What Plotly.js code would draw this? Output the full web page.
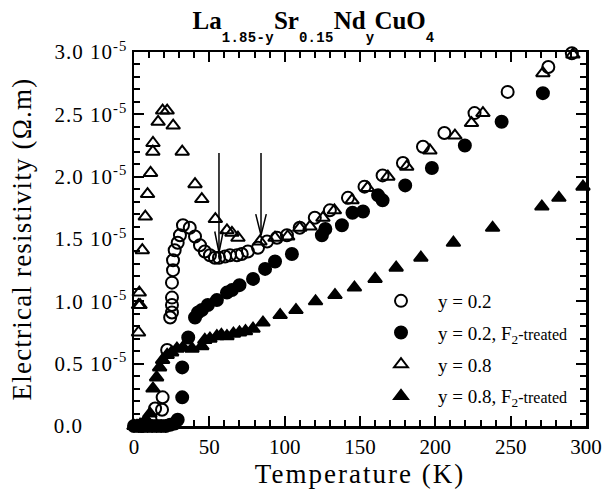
<!DOCTYPE html>
<html>
<head>
<meta charset="utf-8">
<script src="https://cdn.plot.ly/plotly-3.0.1.min.js"></script>
<style>
html,body{margin:0;padding:0;background:#fff;}
#chart{width:606px;height:493px;}
#chart .ytick text, #chart .y2tick text{letter-spacing:1px;}
#chart .xtitle{letter-spacing:2px;}
#chart .ytitle{letter-spacing:1.2px;}
</style>
</head>
<body>
<div id="chart"></div>
<script>
// Temperature (K) and electrical resistivity (in units of 10^-5 Ohm.m)
var T_y02 = [5, 8, 11, 14, 18.6, 19, 22, 24, 25.2, 25.2, 25.2, 25.2, 25.9, 25.9, 27, 29, 30.5, 32.5, 37, 40.5, 43.8, 47, 50.4, 53.7, 56.4, 60.4, 63.7, 68.3, 71.5, 75.6, 82.3, 88.3, 94.9, 101.5, 110, 120, 130, 142, 153, 165, 178.5, 191.8, 206, 226, 248, 275, 290.6];
var R_y02 = [0, 0.02, 0.05, 0.14, 0.13, 0.23, 0.61, 0.87, 0.91, 0.97, 1.03, 1.15, 1.25, 1.33, 1.41, 1.47, 1.53, 1.61, 1.59, 1.52, 1.45, 1.40, 1.37, 1.35, 1.35, 1.36, 1.37, 1.37, 1.38, 1.40, 1.43, 1.48, 1.51, 1.53, 1.59, 1.67, 1.73, 1.83, 1.92, 2.01, 2.11, 2.24, 2.35, 2.51, 2.68, 2.88, 2.99];

var T_y02F = [0, 3, 6, 9, 12, 15, 18, 21, 24, 27, 29, 32, 32, 36, 40.5, 42.5, 45, 49, 55, 61.7, 65, 70, 79, 87, 93.6, 104.8, 124.7, 127, 138, 145, 152, 162, 165, 180, 197.7, 219.6, 244, 271.4];
var R_y02F = [0, 0, 0, 0, 0, 0, 0, 0, 0.01, 0.02, 0.05, 0.23, 0.47, 0.71, 0.87, 0.91, 0.93, 0.97, 1.01, 1.07, 1.09, 1.13, 1.18, 1.26, 1.32, 1.38, 1.53, 1.58, 1.61, 1.71, 1.72, 1.85, 1.81, 1.93, 2.07, 2.25, 2.44, 2.67];

var T_y08 = [3, 3, 3.5, 4, 5.5, 7.5, 9, 11, 12.5, 12.6, 16, 19, 22, 26, 32, 40.5, 45, 54, 61.7, 65, 69, 83.6, 93.6, 102, 110, 116.8, 125.4, 133, 144.7, 155, 168.5, 181, 196.4, 213, 224, 231.6, 271.4, 291.3];
var R_y08 = [0.75, 0.97, 1.07, 0.97, 1.41, 1.68, 1.86, 2.03, 2.2, 2.27, 2.44, 2.53, 2.53, 2.41, 2.2, 1.94, 1.82, 1.66, 1.57, 1.55, 1.51, 1.48, 1.51, 1.52, 1.59, 1.60, 1.67, 1.73, 1.81, 1.91, 2.0, 2.08, 2.21, 2.33, 2.43, 2.51, 2.83, 2.98];

var T_y08F = [0, 2, 4, 6, 8, 10.6, 12.6, 15, 17, 19, 22, 25, 28.5, 32.5, 38.5, 45, 47, 50.4, 55, 58, 61.7, 66, 70, 74, 79, 85.6, 97, 107.5, 120.5, 133.4, 146.3, 160, 174, 190.4, 212, 238, 270.7, 282, 298];
var R_y08F = [0, 0, 0.01, 0.02, 0.05, 0.1, 0.30, 0.39, 0.47, 0.53, 0.57, 0.59, 0.62, 0.63, 0.62, 0.64, 0.69, 0.70, 0.72, 0.73, 0.72, 0.74, 0.75, 0.76, 0.78, 0.83, 0.89, 0.93, 1.0, 1.05, 1.11, 1.18, 1.27, 1.35, 1.47, 1.59, 1.76, 1.83, 1.92];

// y tick labels: the zero label is left-aligned with the others in the original, so it sits on a free overlay axis
var yTickVals = [0.5, 1.0, 1.5, 2.0, 2.5, 3.0];
var yTickText = ['0.5 10<sup>-5</sup>', '1.0 10<sup>-5</sup>', '1.5 10<sup>-5</sup>', '2.0 10<sup>-5</sup>', '2.5 10<sup>-5</sup>', '3.0 10<sup>-5</sup>'];
var yZeroVal = [0];
var yZeroText = ['0.0'];
var xTickVals = [0, 50, 100, 150, 200, 250, 300];

// arrows marking features: [T, top R, tip R, half-width of head in K, head length in R]
var arrows = [[56.4, 2.19, 1.39, 2.8, 0.17], [84.3, 2.19, 1.53, 3.5, 0.17]];

var FONT = 'Liberation Serif, Times New Roman, serif';
var F2 = 'F<sub>2</sub><span style="font-size:16px">-treated</span>';

function tr(x, y, name, sym, group, rank, yax) {
  return {
    x: x, y: y, name: name, type: 'scatter', mode: 'markers', cliponaxis: false,
    legendgroup: group, legendrank: rank, yaxis: yax || 'y',
    marker: {symbol: sym, size: 12, color: '#000', line: {color: '#000', width: 2}}
  };
}
var data = [
  tr(T_y02F, R_y02F, 'y = 0.2, ' + F2, 'circle', 'b', 2),
  tr(T_y02, R_y02, 'y = 0.2', 'circle-open', 'a', 1),
  tr(T_y08, R_y08, 'y = 0.8', 'triangle-up-open', 'c', 3),
  tr(T_y08F, R_y08F, 'y = 0.8, ' + F2, 'triangle-up', 'd', 4, 'y2')
];

var shapes = [];
arrows.forEach(function (a) {
  var lineStyle = {color: '#000', width: 1.5};
  shapes.push({type: 'line', xref: 'x', yref: 'y', x0: a[0], x1: a[0], y0: a[1], y1: a[2], line: lineStyle});
  shapes.push({type: 'path', xref: 'x', yref: 'y',
    path: 'M ' + (a[0] - a[3]) + ',' + (a[2] + a[4]) + ' L ' + a[0] + ',' + a[2] + ' L ' + (a[0] + a[3]) + ',' + (a[2] + a[4]),
    line: lineStyle});
});

var sub = function (s) {
  return '<span style="font-family:Liberation Mono;font-size:14px;font-weight:bold;letter-spacing:0.3px;baseline-shift:-13px">' + s + '</span>';
};

var ML = 83, MR = 20, W = 606, PW = W - ML - MR;
var layout = {
  width: 606, height: 493,
  margin: {l: ML, r: MR, t: 52, b: 67},
  paper_bgcolor: '#fff', plot_bgcolor: '#fff',
  font: {family: FONT, color: '#000', size: 19},
  showlegend: true,
  title: {
    text: 'La' + sub('1.85-y') + 'Sr' + sub('0.15') + 'Nd' + sub('y') + 'CuO' + sub('4'),
    font: {family: FONT, size: 25, weight: 'bold', color: '#000'},
    x: 313.5 / 606, xanchor: 'center', xref: 'container', yref: 'container', y: 0.958, yanchor: 'middle'
  },
  xaxis: {
    domain: [(134 - ML) / PW, 1],
    range: [0, 300], tickvals: xTickVals, ticks: 'inside', ticklen: 10, tickwidth: 2, tickcolor: '#000',
    mirror: 'ticks', showline: true, linewidth: 2.5, linecolor: '#000', showgrid: false, zeroline: false,
    minor: {dtick: 10, tick0: 0, ticks: 'inside', ticklen: 6, tickwidth: 2, tickcolor: '#000', showgrid: false},
    tickfont: {family: FONT, size: 21},
    title: {text: 'Temperature (K)', font: {family: FONT, size: 27}, standoff: 6}
  },
  yaxis: {
    range: [0, 3], tickvals: yTickVals, ticktext: yTickText, ticks: 'inside', ticklen: 10, tickwidth: 2, tickcolor: '#000',
    mirror: 'ticks', showline: true, linewidth: 2.5, linecolor: '#000', showgrid: false, zeroline: false,
    minor: {dtick: 0.1, tick0: 0, ticks: 'inside', ticklen: 6, tickwidth: 2, tickcolor: '#000', showgrid: false},
    tickfont: {family: FONT, size: 21},
    title: {text: 'Electrical resistivity (\u03A9.m)', font: {family: FONT, size: 27}, standoff: 23}
  },
  yaxis2: {
    overlaying: 'y', side: 'left', anchor: 'free', position: 0, range: [0, 3], tickvals: yZeroVal, ticktext: yZeroText,
    ticks: '', showline: false, showgrid: false, zeroline: false,
    tickfont: {family: FONT, size: 21}
  },
  legend: {
    x: (364 - ML) / PW, y: (426 - 282) / 374, xanchor: 'left', yanchor: 'top',
    bgcolor: 'rgba(0,0,0,0)', borderwidth: 0, font: {family: FONT, size: 19, color: '#000'},
    traceorder: 'grouped', tracegroupgap: 4, itemwidth: 64
  },
  shapes: shapes
};

Plotly.newPlot('chart', data, layout, {displayModeBar: false, staticPlot: true});
</script>
</body>
</html>
